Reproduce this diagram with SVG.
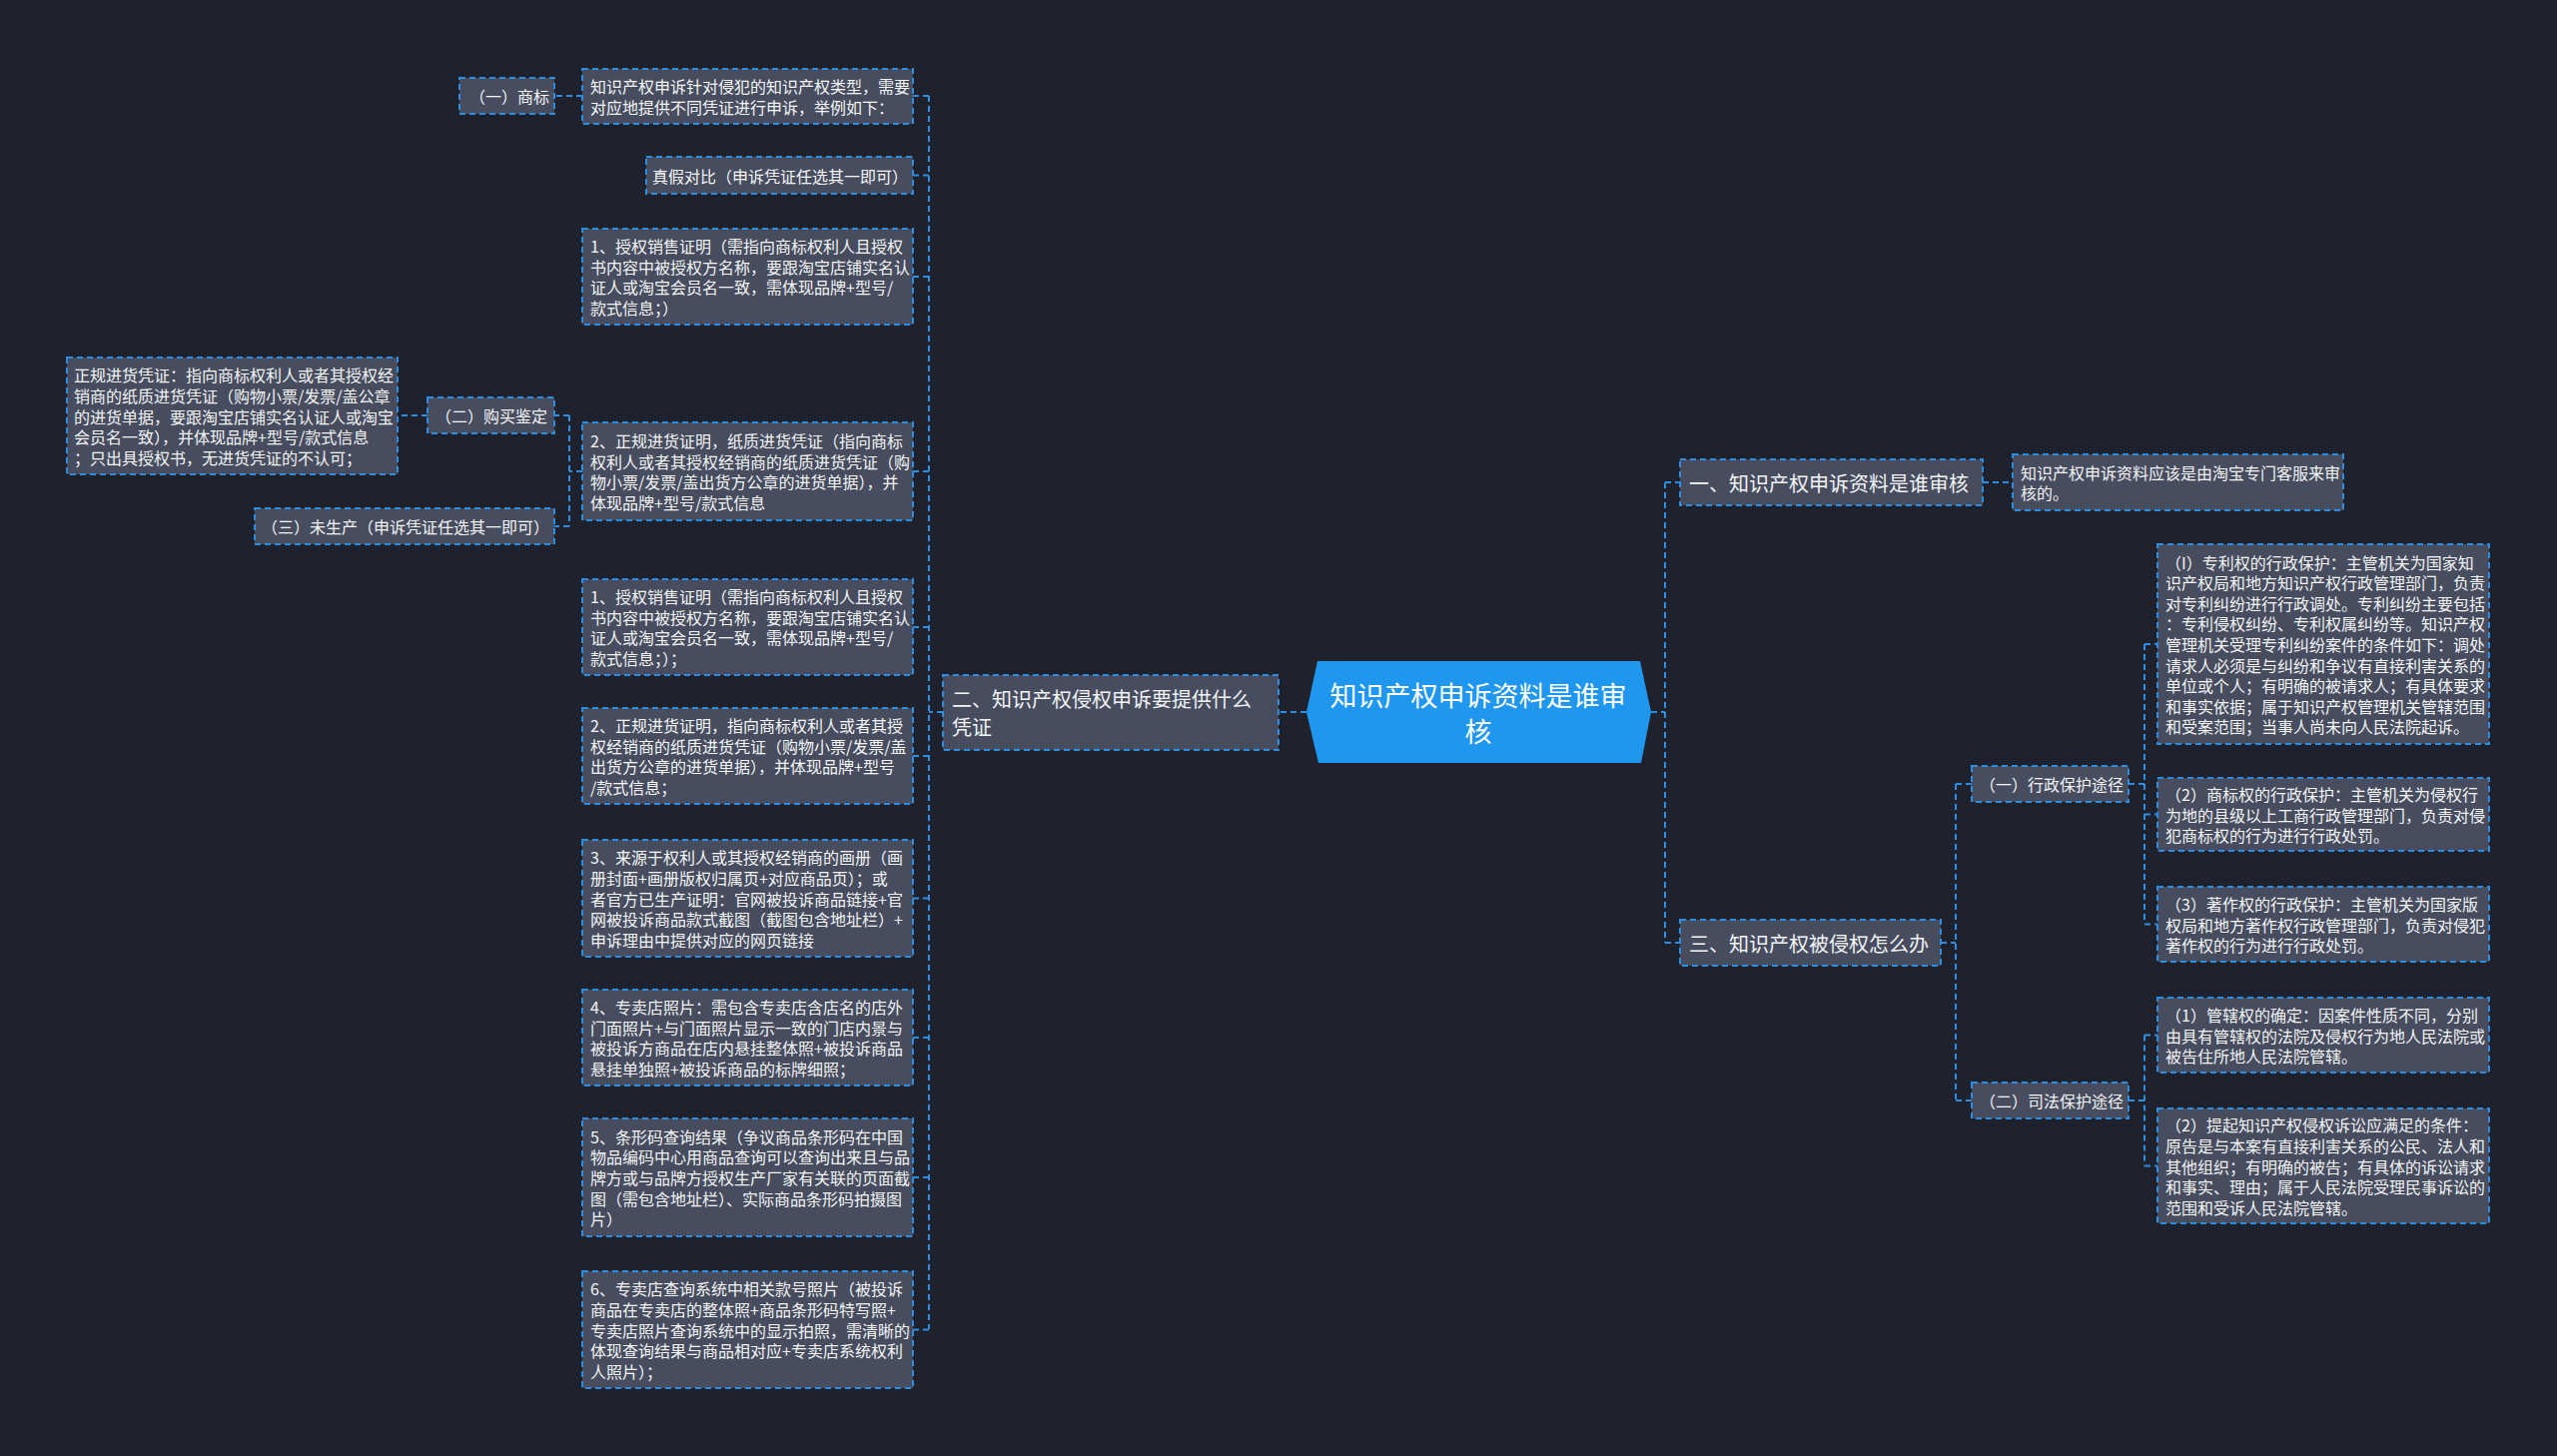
<svg xmlns="http://www.w3.org/2000/svg" width="2560" height="1458" viewBox="0 0 2560 1458">
<style>
.bg{fill:#1f222d}
.box{fill:#474d5e;stroke:#2a8fe2;stroke-width:2;stroke-dasharray:6 4}
.t{font-family:"Noto Sans CJK SC","Noto Sans",sans-serif;fill:#f2f4f7;dominant-baseline:central}
.s{font-size:16px}
.m{font-size:20px}
.c{font-size:27px;fill:#ffffff;text-anchor:middle}
.ln{fill:none;stroke:#2a8fe2;stroke-width:2;stroke-dasharray:6 4}
</style>
<rect class="bg" x="0" y="0" width="2560" height="1458"/>

<g id="connectors">
<path class="ln" d="M1308,713 H1280"/>
<path class="ln" d="M944,713 H930"/>
<path class="ln" d="M930,96 V1331"/>
<path class="ln" d="M930,96 H914 M930,175.5 H914 M930,277 H914 M930,472 H914 M930,628 H914 M930,757 H914 M930,899.5 H914 M930,1039 H914 M930,1179 H914 M930,1331.5 H914"/>
<path class="ln" d="M583,96 H555"/>
<path class="ln" d="M583,472 H570 M570,416 V527 M570,416 H555 M570,527 H555"/>
<path class="ln" d="M428,416 H398"/>
<path class="ln" d="M1653,713 H1667 M1667,483 V944 M1667,483 H1682 M1667,944 H1682"/>
<path class="ln" d="M1985,483 H2015"/>
<path class="ln" d="M1943,944 H1958 M1958,785 V1102 M1958,785 H1974 M1958,1102 H1974"/>
<path class="ln" d="M2131,785 H2147 M2147,645 V925 M2147,645 H2160 M2147,815.5 H2160 M2147,925.5 H2160"/>
<path class="ln" d="M2131,1102 H2147 M2147,1036.5 V1167.5 M2147,1036.5 H2160 M2147,1167.5 H2160"/>
</g>

<g id="root">
<polygon points="1319,662 1642,662 1653,713 1643,764 1320,764 1308,713" fill="#1f97ef"/>
<text class="t c"><tspan x="1480" y="695">知识产权申诉资料是谁审</tspan><tspan x="1480" y="731">核</tspan></text>
</g>

<g id="n2">
<rect class="box" x="944" y="676" width="336" height="75"/>
<text class="t m"><tspan x="953" y="699">二、知识产权侵权申诉要提供什么</tspan><tspan x="953" y="727">凭证</tspan></text>
</g>

<g id="n2-a">
<rect class="box" x="583" y="69" width="331" height="55"/>
<text class="t s"><tspan x="591" y="86.2">知识产权申诉针对侵犯的知识产权类型，需要</tspan><tspan x="591" y="106.8">对应地提供不同凭证进行申诉，举例如下：</tspan></text>
</g>
<g id="n2-a-1">
<rect class="box" x="460" y="78" width="95" height="36"/>
<text class="t s" x="470" y="96">（一）商标</text>
</g>
<g id="n2-b">
<rect class="box" x="647" y="157" width="267" height="37"/>
<text class="t s" x="653" y="175.5">真假对比（申诉凭证任选其一即可）</text>
</g>
<g id="n2-c">
<rect class="box" x="583" y="229" width="331" height="96"/>
<text class="t s"><tspan x="591" y="246.1">1、授权销售证明（需指向商标权利人且授权</tspan><tspan x="591" y="266.7">书内容中被授权方名称，要跟淘宝店铺实名认</tspan><tspan x="591" y="287.3">证人或淘宝会员名一致，需体现品牌+型号/</tspan><tspan x="591" y="307.9">款式信息；）</tspan></text>
</g>
<g id="n2-d">
<rect class="box" x="583" y="423" width="331" height="98"/>
<text class="t s"><tspan x="591" y="441.1">2、正规进货证明，纸质进货凭证（指向商标</tspan><tspan x="591" y="461.7">权利人或者其授权经销商的纸质进货凭证（购</tspan><tspan x="591" y="482.3">物小票/发票/盖出货方公章的进货单据），并</tspan><tspan x="591" y="502.9">体现品牌+型号/款式信息</tspan></text>
</g>
<g id="n2-d-1">
<rect class="box" x="428" y="398" width="127" height="36"/>
<text class="t s" x="436" y="416">（二）购买鉴定</text>
</g>
<g id="n2-d-1-1">
<rect class="box" x="67" y="358" width="331" height="117"/>
<text class="t s"><tspan x="74" y="375.3">正规进货凭证：指向商标权利人或者其授权经</tspan><tspan x="74" y="395.9">销商的纸质进货凭证（购物小票/发票/盖公章</tspan><tspan x="74" y="416.5">的进货单据，要跟淘宝店铺实名认证人或淘宝</tspan><tspan x="74" y="437.1">会员名一致），并体现品牌+型号/款式信息</tspan><tspan x="74" y="457.7">；只出具授权书，无进货凭证的不认可；</tspan></text>
</g>
<g id="n2-d-2">
<rect class="box" x="255" y="509" width="300" height="36"/>
<text class="t s" x="262" y="527">（三）未生产（申诉凭证任选其一即可）</text>
</g>
<g id="n2-e">
<rect class="box" x="583" y="580" width="331" height="96"/>
<text class="t s"><tspan x="591" y="597.1">1、授权销售证明（需指向商标权利人且授权</tspan><tspan x="591" y="617.7">书内容中被授权方名称，要跟淘宝店铺实名认</tspan><tspan x="591" y="638.3">证人或淘宝会员名一致，需体现品牌+型号/</tspan><tspan x="591" y="658.9">款式信息；）；</tspan></text>
</g>
<g id="n2-f">
<rect class="box" x="583" y="709" width="331" height="96"/>
<text class="t s"><tspan x="591" y="726.1">2、正规进货证明，指向商标权利人或者其授</tspan><tspan x="591" y="746.7">权经销商的纸质进货凭证（购物小票/发票/盖</tspan><tspan x="591" y="767.3">出货方公章的进货单据），并体现品牌+型号</tspan><tspan x="591" y="787.9">/款式信息；</tspan></text>
</g>
<g id="n2-g">
<rect class="box" x="583" y="841" width="331" height="117"/>
<text class="t s"><tspan x="591" y="858.3">3、来源于权利人或其授权经销商的画册（画</tspan><tspan x="591" y="878.9">册封面+画册版权归属页+对应商品页）；或</tspan><tspan x="591" y="899.5">者官方已生产证明：官网被投诉商品链接+官</tspan><tspan x="591" y="920.1">网被投诉商品款式截图（截图包含地址栏）+</tspan><tspan x="591" y="940.7">申诉理由中提供对应的网页链接</tspan></text>
</g>
<g id="n2-h">
<rect class="box" x="583" y="991" width="331" height="96"/>
<text class="t s"><tspan x="591" y="1008.1">4、专卖店照片：需包含专卖店含店名的店外</tspan><tspan x="591" y="1028.7">门面照片+与门面照片显示一致的门店内景与</tspan><tspan x="591" y="1049.3">被投诉方商品在店内悬挂整体照+被投诉商品</tspan><tspan x="591" y="1069.9">悬挂单独照+被投诉商品的标牌细照；</tspan></text>
</g>
<g id="n2-i">
<rect class="box" x="583" y="1120" width="331" height="118"/>
<text class="t s"><tspan x="591" y="1137.8">5、条形码查询结果（争议商品条形码在中国</tspan><tspan x="591" y="1158.4">物品编码中心用商品查询可以查询出来且与品</tspan><tspan x="591" y="1179">牌方或与品牌方授权生产厂家有关联的页面截</tspan><tspan x="591" y="1199.6">图（需包含地址栏）、实际商品条形码拍摄图</tspan><tspan x="591" y="1220.2">片）</tspan></text>
</g>
<g id="n2-j">
<rect class="box" x="583" y="1273" width="331" height="117"/>
<text class="t s"><tspan x="591" y="1290.3">6、专卖店查询系统中相关款号照片（被投诉</tspan><tspan x="591" y="1310.9">商品在专卖店的整体照+商品条形码特写照+</tspan><tspan x="591" y="1331.5">专卖店照片查询系统中的显示拍照，需清晰的</tspan><tspan x="591" y="1352.1">体现查询结果与商品相对应+专卖店系统权利</tspan><tspan x="591" y="1372.7">人照片）；</tspan></text>
</g>

<g id="n1">
<rect class="box" x="1682" y="460" width="303" height="46"/>
<text class="t m" x="1691" y="483">一、知识产权申诉资料是谁审核</text>
</g>
<g id="n1-a">
<rect class="box" x="2015" y="455" width="331" height="56"/>
<text class="t s"><tspan x="2023" y="472.7">知识产权申诉资料应该是由淘宝专门客服来审</tspan><tspan x="2023" y="493.3">核的。</tspan></text>
</g>

<g id="n3">
<rect class="box" x="1682" y="921" width="261" height="46"/>
<text class="t m" x="1691" y="944">三、知识产权被侵权怎么办</text>
</g>
<g id="n3-a">
<rect class="box" x="1974" y="767" width="157" height="36"/>
<text class="t s" x="1982" y="785">（一）行政保护途径</text>
</g>
<g id="n3-b">
<rect class="box" x="1974" y="1084" width="157" height="36"/>
<text class="t s" x="1982" y="1102">（二）司法保护途径</text>
</g>
<g id="n3-a-1">
<rect class="box" x="2160" y="545" width="332" height="200"/>
<text class="t s"><tspan x="2168" y="562.6">（I）专利权的行政保护：主管机关为国家知</tspan><tspan x="2168" y="583.2">识产权局和地方知识产权行政管理部门，负责</tspan><tspan x="2168" y="603.8">对专利纠纷进行行政调处。专利纠纷主要包括</tspan><tspan x="2168" y="624.4">：专利侵权纠纷、专利权属纠纷等。知识产权</tspan><tspan x="2168" y="645">管理机关受理专利纠纷案件的条件如下：调处</tspan><tspan x="2168" y="665.6">请求人必须是与纠纷和争议有直接利害关系的</tspan><tspan x="2168" y="686.2">单位或个人；有明确的被请求人；有具体要求</tspan><tspan x="2168" y="706.8">和事实依据；属于知识产权管理机关管辖范围</tspan><tspan x="2168" y="727.4">和受案范围；当事人尚未向人民法院起诉。</tspan></text>
</g>
<g id="n3-a-2">
<rect class="box" x="2160" y="779" width="332" height="73"/>
<text class="t s"><tspan x="2168" y="794.9">（2）商标权的行政保护：主管机关为侵权行</tspan><tspan x="2168" y="815.5">为地的县级以上工商行政管理部门，负责对侵</tspan><tspan x="2168" y="836.1">犯商标权的行为进行行政处罚。</tspan></text>
</g>
<g id="n3-a-3">
<rect class="box" x="2160" y="888" width="332" height="75"/>
<text class="t s"><tspan x="2168" y="904.9">（3）著作权的行政保护：主管机关为国家版</tspan><tspan x="2168" y="925.5">权局和地方著作权行政管理部门，负责对侵犯</tspan><tspan x="2168" y="946.1">著作权的行为进行行政处罚。</tspan></text>
</g>
<g id="n3-b-1">
<rect class="box" x="2160" y="999" width="332" height="75"/>
<text class="t s"><tspan x="2168" y="1015.9">（1）管辖权的确定：因案件性质不同，分别</tspan><tspan x="2168" y="1036.5">由具有管辖权的法院及侵权行为地人民法院或</tspan><tspan x="2168" y="1057.1">被告住所地人民法院管辖。</tspan></text>
</g>
<g id="n3-b-2">
<rect class="box" x="2160" y="1110" width="332" height="115"/>
<text class="t s"><tspan x="2168" y="1126.3">（2）提起知识产权侵权诉讼应满足的条件：</tspan><tspan x="2168" y="1146.9">原告是与本案有直接利害关系的公民、法人和</tspan><tspan x="2168" y="1167.5">其他组织；有明确的被告；有具体的诉讼请求</tspan><tspan x="2168" y="1188.1">和事实、理由；属于人民法院受理民事诉讼的</tspan><tspan x="2168" y="1208.7">范围和受诉人民法院管辖。</tspan></text>
</g>
</svg>
